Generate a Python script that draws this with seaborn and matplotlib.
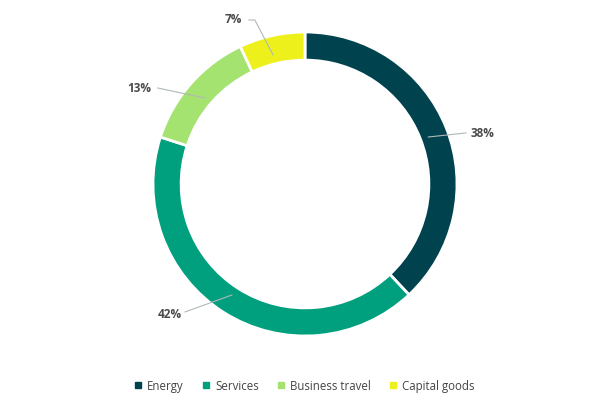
import matplotlib
matplotlib.use("Agg")
import matplotlib.pyplot as plt
from matplotlib.lines import Line2D
import seaborn as sns

categories = ["Energy", "Services", "Business travel", "Capital goods"]
values = [38, 42, 13, 7]
colors = ["#00434f", "#00a07f", "#a5e370", "#eef01b"]

sns.set_theme(style="white")
plt.rcParams["font.family"] = ["Open Sans", "DejaVu Sans"]

fig = plt.figure(figsize=(6.08, 4.10), dpi=100)
ax = fig.add_axes([(305 - 152) / 608, (410 - 337) / 410, 304 / 608, 304 / 410])
wedges, _ = ax.pie(values, colors=colors, startangle=90, counterclock=False,
                   radius=1.0, wedgeprops=dict(width=0.185, edgecolor="white", linewidth=2))
ax.set_xlim(-1, 1)
ax.set_ylim(-1, 1)
ax.set_aspect("equal")
ax.axis("off")

# label positions (text, line start in ring, line end)
label_geom = [
    ((1.17, 0.342), (0.81, 0.309), (1.06, 0.336)),
    ((-0.89, -0.85), (-0.48, -0.73), (-0.79, -0.842)),
    ((-1.09, 0.632), (-0.66, 0.566), (-0.97, 0.632)),
    ((-0.47, 1.086), (-0.21, 0.849), (-0.33, 1.079)),
]
for v, (tpos, p0, p1) in zip(values, label_geom):
    if v == 7:
        ax.plot([p0[0], p1[0], p1[0] - 0.04], [p0[1], p1[1], p1[1]], color="#b0b8b8", lw=0.8, clip_on=False)
    else:
        ax.plot([p0[0], p1[0]], [p0[1], p1[1]], color="#b0b8b8", lw=0.8, clip_on=False)
    ax.text(tpos[0], tpos[1], f"{v}%", ha="center", va="center", fontsize=8.5,
            fontweight="bold", color="#4a4a4a", clip_on=False)

handles = [Line2D([0], [0], marker="s", color="none", markerfacecolor=c,
                  markeredgecolor=c, markersize=4) for c in colors]
fig.legend(handles, categories, loc="center", bbox_to_anchor=(0.5, 1 - 387 / 410),
           ncol=4, frameon=False, fontsize=8.3, labelcolor="#444444",
           handlelength=0.8, handletextpad=0.4, columnspacing=1.5)

fig.savefig("out.png", dpi=100, facecolor="white")
